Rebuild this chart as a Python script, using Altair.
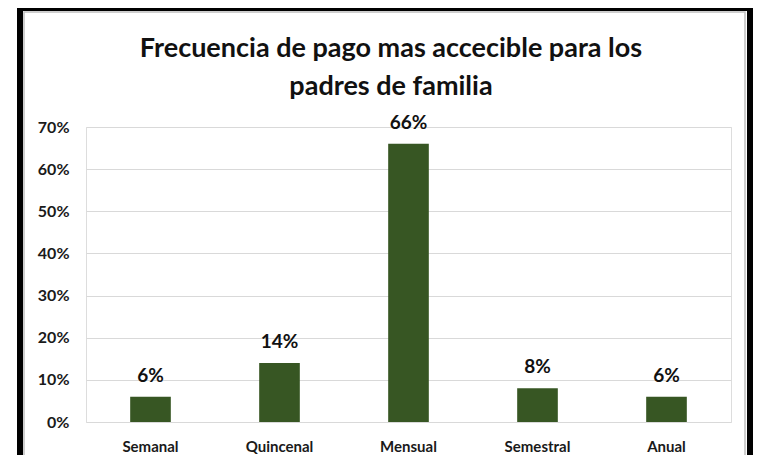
import altair as alt
import pandas as pd

categories = ["Semanal", "Quincenal", "Mensual", "Semestral", "Anual"]
values = [0.06, 0.14, 0.66, 0.08, 0.06]
labels = ["6%", "14%", "66%", "8%", "6%"]
title_lines = ["Frecuencia de pago mas accecible para los", "padres de familia"]

df = pd.DataFrame({"cat": categories, "val": values, "lab": labels})
tdf = pd.DataFrame({"t": title_lines})

FONT = "Lato"
W, H = 645, 295

x = alt.X("cat:N", sort=categories, title=None,
          scale=alt.Scale(paddingInner=0.685, paddingOuter=0.3425),
          axis=alt.Axis(labelAngle=0, domain=False, ticks=False, labelPadding=17,
                        labelFont=FONT, labelFontSize=15, labelFontWeight="bold",
                        labelColor="#1a1a1a"))
y = alt.Y("val:Q", title=None,
          scale=alt.Scale(domain=[0, 0.7], nice=False),
          axis=alt.Axis(format=".0%", values=[0, .1, .2, .3, .4, .5, .6, .7],
                        domain=False, ticks=False, labelPadding=17,
                        labelFont=FONT, labelFontSize=16, labelFontWeight="bold",
                        labelColor="#1a1a1a", gridColor="#d9d9d9", gridWidth=1))

bars = alt.Chart(df).mark_bar(color="#375623").encode(x=x, y=y)
text = alt.Chart(df).mark_text(font=FONT, fontSize=19, fontWeight="bold",
                               baseline="alphabetic", dy=-15, color="#111111").encode(
    x=alt.X("cat:N", sort=categories), y="val:Q", text="lab:N")

title1 = alt.Chart(tdf.iloc[[0]]).mark_text(
    font=FONT, fontSize=27, fontWeight="bold", color="#111111",
    baseline="alphabetic", align="center").encode(
    text="t:N", x=alt.value(305), y=alt.value(-70))
title2 = alt.Chart(tdf.iloc[[1]]).mark_text(
    font=FONT, fontSize=27, fontWeight="bold", color="#111111",
    baseline="alphabetic", align="center").encode(
    text="t:N", x=alt.value(305), y=alt.value(-32))

frame = alt.Chart(pd.DataFrame({"k": [0]})).mark_rect(
    fill=None, stroke="black", strokeWidth=6).encode(
    x=alt.value(-66), x2=alt.value(664), y=alt.value(-119), y2=alt.value(360))
inner = alt.Chart(pd.DataFrame({"k": [0]})).mark_rect(
    fill=None, stroke="#bfbfbf", strokeWidth=1.5).encode(
    x=alt.value(-62), x2=alt.value(659), y=alt.value(-115), y2=alt.value(360))

chart = alt.layer(inner, frame, bars, text, title1, title2).properties(
    width=W, height=H,
    autosize=alt.AutoSizeParams(type="none"),
    padding={"left": 78, "top": 119, "right": 22, "bottom": 33},
).configure_view(stroke=None).configure(background="white")

chart.save("out.html", embed_options={"renderer": "svg", "actions": False})
